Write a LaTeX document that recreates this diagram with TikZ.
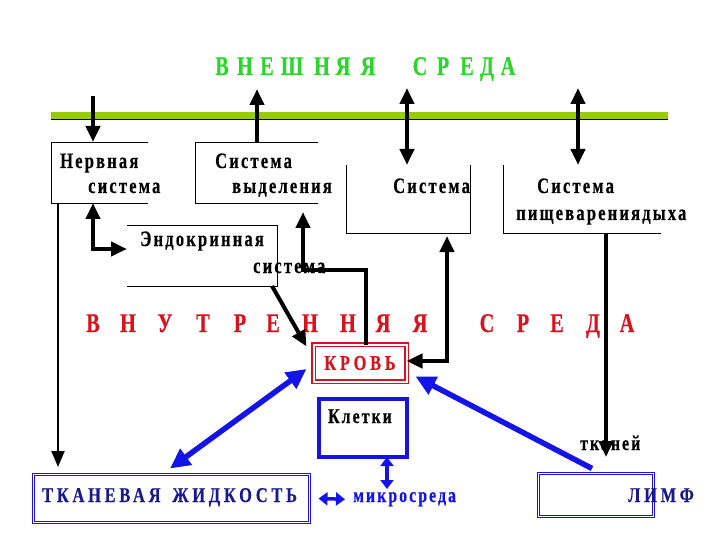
\documentclass[tikz,border=0pt]{standalone}
\usepackage{fontspec}
\setmainfont{Liberation Serif}
\newfontfamily\diafont[FakeStretch=0.75,LetterSpace=10,FakeBold=0.5]{Liberation Serif}
\newfontfamily\widefont[FakeStretch=0.78,LetterSpace=18,FakeBold=0.5]{Liberation Serif}
\usetikzlibrary{arrows.meta,calc}

\definecolor{barGreen}{RGB}{153,204,0}
\definecolor{titleGreen}{RGB}{40,215,40}
\definecolor{titleRed}{RGB}{215,20,30}
\definecolor{arrBlue}{RGB}{20,20,230}
\definecolor{inkNavy}{RGB}{25,25,140}

\begin{document}
\begin{tikzpicture}[x=1pt, y=-1pt,
    frame/.style={rectangle, inner sep=0pt, outer sep=0pt},
    txt/.style={inner sep=0pt, anchor=base west, font=\diafont\bfseries\fontsize{22}{22}\selectfont},
    widetxt/.style={inner sep=0pt, anchor=base west, font=\widefont\bfseries\fontsize{21}{21}\selectfont},
    greenletter/.style={inner sep=0pt, anchor=base, text=titleGreen, font=\diafont\bfseries\fontsize{27}{27}\selectfont},
    redletter/.style={inner sep=0pt, anchor=base, text=titleRed, font=\diafont\bfseries\fontsize{27}{27}\selectfont},
    blk/.style={line width=4pt, -{Triangle[length=16pt,width=14pt]}},
    blkboth/.style={line width=4pt, {Triangle[length=16pt,width=14pt]}-{Triangle[length=16pt,width=14pt]}},
    bluearr/.style={arrBlue, line width=5.5pt, -{Triangle[length=20pt,width=19pt]}},
    blueboth/.style={arrBlue, line width=5.5pt, {Triangle[length=20pt,width=19pt]}-{Triangle[length=20pt,width=19pt]}},
    bluesmall/.style={arrBlue, line width=3.5pt, {Triangle[length=9pt,width=13pt]}-{Triangle[length=9pt,width=13pt]}}
]
\useasboundingbox (0,0) rectangle (720,540);

% external environment
\foreach \x/\ch [count=\i] in {222/В,245/Н,267/Е,292/Ш,322/Н,343/Я,368/Я,420/С,443/Р,467/Е,487/Д,508/А}
    \node[greenletter] (g\i) at (\x,75) {\ch};
\fill[barGreen] (51,112) rectangle (668,120);
\draw[line width=1pt] (51,120) -- (668,120);

% organ systems
\node[frame, minimum width=97, minimum height=61] (nerv) at (99.5,172.5) {};
\node[frame, minimum width=123, minimum height=61] (vyd) at (256.5,172.5) {};
\node[frame, minimum width=124, minimum height=68] (sist) at (408,199) {};
\node[frame, minimum width=158, minimum height=68] (pish) at (582,199) {};
\node[frame, minimum width=150, minimum height=61] (endo) at (202,255.5) {};

\draw (nerv.north east) -- (nerv.north west) -- (nerv.south west) -- (nerv.south east);
\draw (vyd.north east) -- (vyd.north west) -- (vyd.south west) -- (vyd.south east);
\draw (sist.north west) -- (sist.south west) -- (sist.south east) -- (sist.north east);
\draw (pish.north west) -- (pish.south west) -- (pish.south east);
\draw (endo.north west) -- (endo.north east) -- (endo.south east) -- (endo.south west);

\node[txt] (nerv1) at (60,168) {Нервная};
\node[txt] (nerv2) at (88,193) {система};
\node[txt] (vyd1) at (215,168) {Система};
\node[txt] (vyd2) at (232,193) {выделения};
\node[txt] (sist1) at (393,193) {Система};
\node[txt] (pish1) at (537,193) {Система};
\node[txt] (pish2) at (516,220) {пищеварениядыха};
\node[txt] (endo1) at (140,246) {Эндокринная};
\node[txt] (endo2) at (253,273) {система};

% internal environment
\foreach \x/\ch [count=\i] in {93/В,128/Н,165/У,203/Т,240/Р,273/Е,310/Н,348/Н,383/Я,420/Я,487/С,523/Р,557/Е,593/Д,627/А}
    \node[redletter] (r\i) at (\x,332) {\ch};

\node[frame, draw=titleRed, line width=1.2pt, double, double distance=2pt,
      minimum width=93, minimum height=37, text=titleRed,
      font=\widefont\bfseries\fontsize{21}{21}\selectfont] (krov) at (360,363) {КРОВЬ};
\node[frame, draw=arrBlue, line width=4pt, minimum width=88, minimum height=58] (klet) at (363,428) {};
\node[txt, font=\diafont\bfseries\fontsize{21}{21}\selectfont] (klet1) at (328,423) {Клетки};

\node[frame, draw=arrBlue, line width=1.2pt, double, double distance=1.5pt,
      minimum width=276, minimum height=48] (tkan) at (171.5,498.5) {};
\node[widetxt, text=inkNavy] (tkan1) at (42,502) {ТКАНЕВАЯ\hspace{4pt} ЖИДКОСТЬ};
\node[frame, draw=arrBlue, line width=1.2pt, double, double distance=1.5pt,
      minimum width=115, minimum height=43] (limf) at (596,495) {};
\node[widetxt, text=inkNavy] (limf1) at (628,502) {ЛИМФ};
\node[txt, text=arrBlue, font=\diafont\bfseries\fontsize{21}{21}\selectfont] (mikro) at (353,502) {микросреда};
\node[txt, font=\diafont\bfseries\fontsize{21}{21}\selectfont] (tkn) at (580,450) {тканей};

% black connectors
\coordinate (in1) at (93,96);
\coordinate (out1) at (257,89);
\coordinate (io1) at (407,88);
\coordinate (io2) at (578,88);
\coordinate (ne) at (93,249);
\coordinate (tl) at (58,467);
\coordinate (kv) at (366,270);
\coordinate (vx) at (303,270);
\coordinate (sk) at (447,361);
\coordinate (pe) at (606,457);

\draw[blk] (in1) -- (in1 |- nerv.north);
\draw[blk] (vyd.north -| out1) -- (out1);
\draw[blkboth] (io1) -- (io1 |- sist.north);
\draw[blkboth] (io2) -- (io2 |- pish.north);
\draw[blkboth] (ne |- nerv.south) -- (ne) -- (ne -| endo.west);
\draw[line width=2.2pt, -{Triangle[length=16pt,width=13pt]}] (tl |- nerv.south) -- (tl);
\draw[blk] ([xshift=-5pt]endo.south east) -- ([xshift=-7pt,yshift=-2pt]krov.north west);
\draw[blk, shorten >=9pt] (kv |- krov.north) -- (kv) -- (vx) -- (vx |- vyd.south);
\draw[blkboth, shorten <=3pt] (sk |- sist.south) -- (sk) -- (sk -| krov.east);
\draw[blk] (pish.south -| pe) -- (pe);

% blue connectors
\draw[blueboth] ([xshift=-1.5pt,yshift=6pt]tkan.north) -- ([xshift=-7pt,yshift=-6pt]krov.west);
\draw[bluearr] ([xshift=-4pt,yshift=5pt]limf.north) -- ([xshift=9pt,yshift=5pt]krov.south east);
\coordinate (ms) at (387,489);
\draw[bluesmall] (ms |- klet.south) -- (ms);
\draw[bluesmall] ([xshift=9pt]tkan.east) -- ([xshift=-8pt]mikro.west);

\end{tikzpicture}
\end{document}
